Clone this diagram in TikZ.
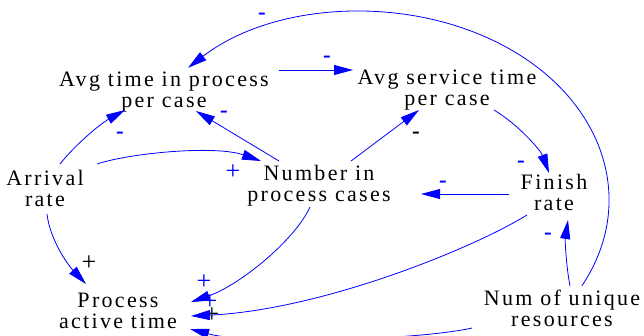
\documentclass[tikz,border=0pt]{standalone}
\usepackage{fontspec}
\setmainfont{Liberation Serif}
\newfontfamily\nodefont[LetterSpace=10.5]{Liberation Serif}
\usetikzlibrary{arrows.meta}
\definecolor{linkblue}{RGB}{0,0,255}
\newcommand\twolines[2]{\begin{tabular}[t]{@{}c@{}}#1\\#2\end{tabular}}
\tikzset{
  var/.style={anchor=base, inner sep=0pt, font=\nodefont\fontsize{22}{21.5}\selectfont},
  link/.style={draw=linkblue, line width=0.8pt, -{Triangle[length=19pt,width=10pt]}},
  minus/.style={anchor=base, inner sep=0pt, font=\bfseries\fontsize{23}{24}\selectfont},
  plus/.style={anchor=center, inner sep=0pt, font=\fontsize{26}{28}\selectfont},
}
\begin{document}
\begin{tikzpicture}[x=1pt, y=-1pt]
\useasboundingbox (0,0) rectangle (644,335);
% variables
\node[var] (AT) at (164,86) {\twolines{Avg time in process}{per case}};
\node[var] (AS) at (447,84) {\twolines{Avg service time}{per case}};
\node[var] (AR) at (45,185) {\twolines{Arrival}{rate}};
\node[var] (NP) at (319,180) {\twolines{Number in}{process cases}};
\node[var] (FR) at (554,189) {\twolines{Finish}{rate}};
\node[var] (PA) at (118,307) {\twolines{Process}{active time}};
\node[var] (NU) at (562,305) {\twolines{Num of unique}{resources}};
% polarity labels
\node[minus, text=linkblue] (m1) at (262,19) {-};
\node[minus, text=linkblue] (m2) at (327,62.5) {-};
\node[minus, text=linkblue] (m3) at (521,167) {-};
\node[minus, text=black] (m4) at (416,138) {-};
\node[minus, text=linkblue] (m5) at (224,117) {-};
\node[minus, text=linkblue] (m6) at (120,138) {-};
\node[minus, text=linkblue] (m7) at (548,239) {-};
\node[minus, text=linkblue] (m8) at (443,187) {-};
\node[plus, text=linkblue] (p1) at (233,172) {+};
\node[plus, text=black] (p2) at (89,263) {+};
\node[plus, text=linkblue] (p3) at (204,282) {+};
\node[plus, text=linkblue] (p4) at (210,302) {+};
\node[plus, text=black] (p5) at (212,315) {+};
% links
\draw[link] ([shift={(19.8,-19.1)}]NU.base) .. controls (637.3,203.4) and (605.8,102.3) .. (507.5,47.8)
  .. controls (409.2,-6.7) and (273.5,1.9) .. ([shift={(24.1,-18.2)}]AT.base);
\draw[link] ([shift={(115,-16)}]AT.base) -- ([shift={(-94,-14)}]AS.base);
\draw[link] ([shift={(47,26)}]AS.base) .. controls (519,125) and (541,151) .. ([shift={(-5,-16)}]FR.base);
\draw[link] ([shift={(32,-19)}]NP.base) -- ([shift={(-28,26)}]AS.base);
\draw[link] ([shift={(-40,-19)}]NP.base) -- ([shift={(32,25)}]AT.base);
\draw[link] ([shift={(15,-21)}]AR.base) .. controls (75,145) and (100,124) .. ([shift={(-39,24)}]AT.base);
\draw[link] ([shift={(52,-21)}]AR.base) .. controls (130,153) and (215,145) .. ([shift={(-58,-19)}]NP.base);
\draw[link] ([shift={(2,29)}]AR.base) .. controls (50,240) and (68,265) .. ([shift={(-32,-23)}]PA.base);
\draw[link] ([shift={(-9,27)}]NP.base) .. controls (295,240) and (240,285) .. ([shift={(73,-5)}]PA.base);
\draw[link] ([shift={(-27,26)}]FR.base) .. controls (470,250) and (320,310) .. ([shift={(73,9)}]PA.base);
\draw[link] ([shift={(-90,23)}]NU.base) .. controls (420,340) and (250,345) .. ([shift={(72,22)}]PA.base);
\draw[link] ([shift={(8,-19)}]NU.base) .. controls (566,265) and (565,240) .. ([shift={(14,31)}]FR.base);
\draw[link] ([shift={(-45,5)}]FR.base) -- ([shift={(102,14)}]NP.base);
\end{tikzpicture}
\end{document}
